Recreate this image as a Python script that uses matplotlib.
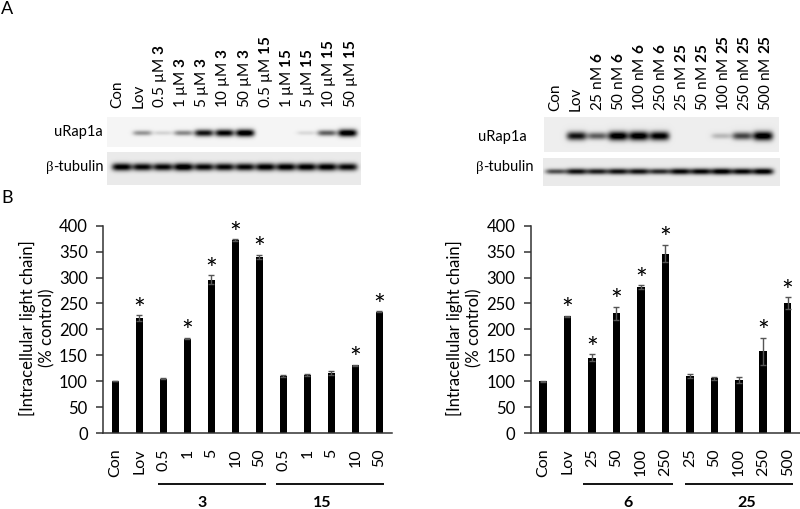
import numpy as np
import matplotlib
matplotlib.use('Agg')
import matplotlib.pyplot as plt

plt.rcParams['font.family'] = ['Lato', 'DejaVu Sans']
plt.rcParams['mathtext.fontset'] = 'custom'
plt.rcParams['mathtext.rm'] = 'Lato'
plt.rcParams['mathtext.bf'] = 'Lato:bold'
plt.rcParams['mathtext.default'] = 'rm'

# блоты
blot_labels_l = ['Con', 'Lov', '0.5 µM $\\mathbf{3}$', '1 µM $\\mathbf{3}$', '5 µM $\\mathbf{3}$', '10 µM $\\mathbf{3}$',
                 '50 µM $\\mathbf{3}$', '0.5 µM $\\mathbf{15}$', '1 µM $\\mathbf{15}$', '5 µM $\\mathbf{15}$',
                 '10 µM $\\mathbf{15}$', '50 µM $\\mathbf{15}$']
blot_labels_r = ['Con', 'Lov', '25 nM $\\mathbf{6}$', '50 nM $\\mathbf{6}$', '100 nM $\\mathbf{6}$', '250 nM $\\mathbf{6}$',
                 '25 nM $\\mathbf{25}$', '50 nM $\\mathbf{25}$', '100 nM $\\mathbf{25}$', '250 nM $\\mathbf{25}$',
                 '500 nM $\\mathbf{25}$']
urap_l = [0, 0.35, 0.12, 0.4, 0.85, 0.92, 1.0, 0, 0, 0.1, 0.55, 1.0]
tub_l = [0.95, 0.9, 0.9, 1.0, 0.9, 0.9, 0.9, 0.95, 0.95, 0.95, 0.95, 0.9]
urap_r = [0, 0.85, 0.55, 1.0, 1.0, 0.95, 0, 0, 0.2, 0.65, 1.0]
tub_r = [0.6, 0.85, 0.8, 0.85, 0.85, 0.75, 0.9, 0.9, 0.95, 0.9, 0.95]

# графики
cats_l = ['Con', 'Lov', '0.5', '1', '5', '10', '50', '0.5', '1', '5', '10', '50']
vals_l = [100, 222, 105, 182, 296, 372, 340, 110, 112, 116, 131, 234]
errs_l = [0.5, 5, 1, 1, 8, 2, 4, 1, 2, 4, 1, 1]
stars_l = [1, 3, 4, 5, 6, 10, 11]
cats_r = ['Con', 'Lov', '25', '50', '100', '250', '25', '50', '100', '250', '500']
vals_r = [100, 225, 145, 231, 281, 346, 110, 106, 103, 158, 251]
errs_r = [1, 1, 7, 12, 4, 17, 3, 3, 6, 26, 11]
stars_r = [1, 2, 3, 4, 5, 9, 10]

W, H = 800, 509
fig = plt.figure(figsize=(W / 100, H / 100), dpi=100)
over = fig.add_axes([0, 0, 1, 1])
over.axis('off')


def blot(x0, x1, y0, y1, lane0, step, values, bg, band_w, band_h, seed_y):
    # серый прямоугольник с размытыми полосами
    xs = np.arange(x0, x1) + 0.5
    ys = np.arange(y0, y1) + 0.5
    X, Y = np.meshgrid(xs, ys)
    dark = np.zeros_like(X)
    for i, v in enumerate(values):
        cx = lane0 + i * step
        h = band_h * (0.6 + 0.5 * v)
        dark += v * np.exp(-((X - cx) / band_w) ** 4) * np.exp(-((Y - seed_y) / h) ** 2)
    img = np.clip(bg * (1 - 1.1 * dark), 0, 1)
    over.imshow(img, cmap='gray', vmin=0, vmax=1, extent=(x0, x1, y1, y0), aspect='auto', interpolation='bilinear')


blot(107, 361, 117, 147, 122, 20.5, urap_l, 0.96, 9.5, 3.4, 133)
blot(107, 361, 152, 185, 122, 20.5, tub_l, 0.92, 10, 3.6, 167)
blot(544, 779, 117, 152, 556, 20.7, urap_r, 0.93, 10, 4.2, 136)
blot(543, 780, 158, 186, 556, 20.7, tub_r, 0.92, 10.5, 3.0, 171.5)

for i, t in enumerate(blot_labels_l):
    over.text(117.5 + i * 21.2, 108, t, rotation=90, ha='center', va='bottom', fontsize=11, color='black')
for i, t in enumerate(blot_labels_r):
    over.text(555 + i * 21.1, 111, t, rotation=90, ha='center', va='bottom', fontsize=11, color='black')

over.text(103, 132, 'uRap1a', ha='right', va='center', fontsize=10.5, color='black')
over.text(527, 137, 'uRap1a', ha='right', va='center', fontsize=10.5, color='black')
for xb, yb in [(46, 167), (476, 167)]:
    over.text(xb, yb, 'β', ha='left', va='center', fontsize=10.5, family='Liberation Serif', color='black')
    over.text(xb + 7, yb, '-tubulin', ha='left', va='center', fontsize=10.5, color='black')

over.text(1, 14, 'A', ha='left', va='baseline', fontsize=13, color='black')
over.text(1, 203, 'B', ha='left', va='baseline', fontsize=13, color='black')

over.text(37, 328, '[Intracellular light chain]\n(% control)', rotation=90, ha='center', va='center',
          fontsize=12, linespacing=1.25, multialignment='center', color='black')
over.text(464, 328, '[Intracellular light chain]\n(% control)', rotation=90, ha='center', va='center',
          fontsize=12, linespacing=1.25, multialignment='center', color='black')

# линии групп и подписи соединений
for xa, xb in [(158, 266), (276, 384), (583, 673), (685, 793)]:
    over.plot([xa, xb], [484, 484], color='black', lw=1.3, solid_capstyle='butt')
for xt, t in [(202, '3'), (322, '15'), (628, '6'), (747, '25')]:
    over.text(xt, 507, t, ha='center', va='baseline', fontsize=11.5, fontweight='bold', color='black')
over.set_xlim(0, W)
over.set_ylim(H, 0)


def bars(px0, px1, lane0, step, cats, vals, errs, stars):
    top, bottom = 225.7, 433
    ax = fig.add_axes([px0 / W, 1 - bottom / H, (px1 - px0) / W, (bottom - top) / H])
    ax.patch.set_alpha(0)
    x = np.arange(len(vals))
    ax.bar(x, vals, width=7.5 / step, color='black', zorder=2)
    ax.errorbar(x, vals, yerr=errs, fmt='none', ecolor='#555555', elinewidth=1, capsize=2.2, capthick=1, zorder=3)
    ax.set_xlim((px0 - lane0) / step, (px1 - lane0) / step)
    ax.set_ylim(0, 400)
    ax.set_yticks(range(0, 401, 50))
    ax.set_xticks(x)
    ax.set_xticklabels(cats, rotation=90, fontsize=11.5, color='black')
    ax.tick_params(axis='x', length=0, pad=11)
    ax.tick_params(axis='y', length=5, width=1.1, color='#333333', labelsize=12, labelcolor='black', pad=6)
    for s in ['top', 'right']:
        ax.spines[s].set_visible(False)
    for s in ['left', 'bottom']:
        ax.spines[s].set_color('#333333')
        ax.spines[s].set_linewidth(1.1)
    for i in stars:
        ax.annotate('*', (x[i], vals[i] + errs[i]), xytext=(0, -6), textcoords='offset points',
                    ha='center', va='bottom', fontsize=20, color='black', annotation_clip=False)
    return ax


bars(103, 392, 115.3, 24, cats_l, vals_l, errs_l, stars_l)
bars(530.7, 800, 543, 24.47, cats_r, vals_r, errs_r, stars_r)

fig.savefig('out.png', dpi=100)
